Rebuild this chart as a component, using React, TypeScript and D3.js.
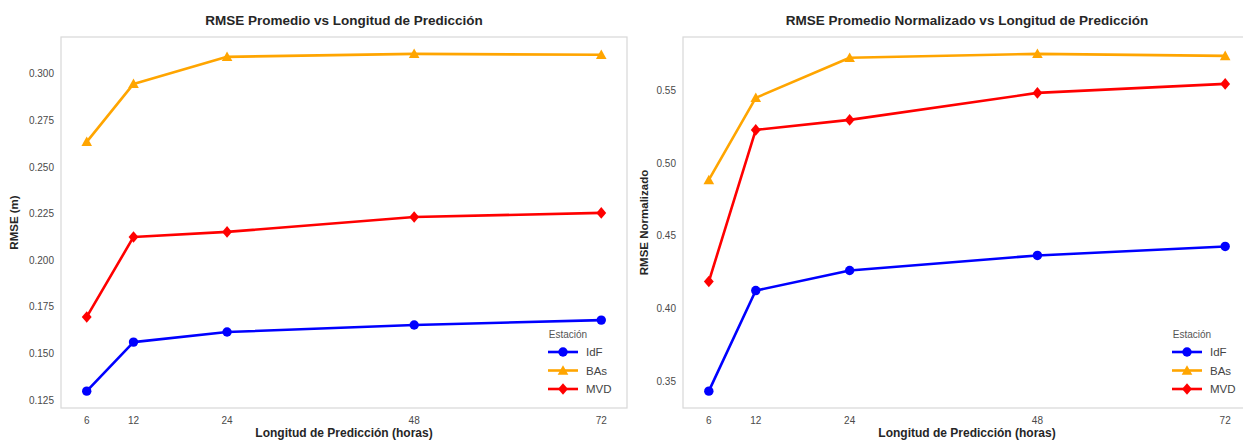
import React from "react";
import * as d3 from "d3";

const hours = [6, 12, 24, 48, 72];
const stations = ["IdF", "BAs", "MVD"];
const colors = ["#0000ff", "#ffa500", "#ff0000"];
const markers = ["circle", "triangle", "diamond"];

const rmseIdF = [0.1298, 0.1561, 0.1615, 0.1653, 0.1679];
const rmseBAs = [0.2635, 0.2946, 0.3091, 0.3107, 0.3102];
const rmseMVD = [0.1696, 0.2125, 0.2152, 0.2232, 0.2254];

const normIdF = [0.3431, 0.4124, 0.4262, 0.4366, 0.4428];
const normBAs = [0.4886, 0.5452, 0.5728, 0.5755, 0.5741];
const normMVD = [0.4186, 0.5231, 0.53, 0.5486, 0.5548];

const leftTicksY = [0.125, 0.15, 0.175, 0.2, 0.225, 0.25, 0.275, 0.3];
const rightTicksY = [0.35, 0.4, 0.45, 0.5, 0.55];

const FONT = "'Liberation Sans', Arial, sans-serif";

function Marker({ kind, x, y, color }: { kind: string; x: number; y: number; color: string }) {
  if (kind === "circle") return <circle cx={x} cy={y} r={4.7} fill={color} />;
  if (kind === "triangle") {
    const s = 5.3;
    return (
      <path
        d={`M${x},${y - s} L${x + s},${y + s * 0.8} L${x - s},${y + s * 0.8} Z`}
        fill={color}
      />
    );
  }
  const s = 5.8;
  return <path d={`M${x},${y - s} L${x + s * 0.85},${y} L${x},${y + s} L${x - s * 0.85},${y} Z`} fill={color} />;
}

function Panel(props: {
  x0: number;
  x1: number;
  y0: number;
  y1: number;
  series: number[][];
  yTicks: number[];
  fmt: string;
  title: string;
  ylabel: string;
  ylabelX: number;
  legendX: number;
}) {
  const { x0, x1, y0, y1, series, yTicks, fmt, title, ylabel, ylabelX, legendX } = props;
  const xs = d3.scaleLinear().domain([6 - 3.3, 72 + 3.3]).range([x0, x1]);
  const all = series.flat();
  const mn = d3.min(all) as number;
  const mx = d3.max(all) as number;
  const pad = (mx - mn) * 0.05;
  const ys = d3.scaleLinear().domain([mn - pad, mx + pad]).range([y1, y0]);
  const f = d3.format(fmt);
  const line = d3
    .line<number>()
    .x((_, i) => xs(hours[i]))
    .y((d) => ys(d));
  const cx = (x0 + x1) / 2;
  const cy = (y0 + y1) / 2;
  return (
    <g>
      <rect x={x0} y={y0} width={x1 - x0} height={y1 - y0} fill="white" stroke="#d8d8d8" strokeWidth={1.2} />
      <text x={cx} y={25} textAnchor="middle" fontFamily={FONT} fontWeight="bold" fontSize={13.5} fill="#262626">
        {title}
      </text>
      {yTicks.map((t) => (
        <text key={t} x={x0 - 7} y={ys(t) + 3.5} textAnchor="end" fontFamily={FONT} fontSize={10} fill="#4a4a4a">
          {f(t)}
        </text>
      ))}
      {hours.map((h) => (
        <text key={h} x={xs(h)} y={424} textAnchor="middle" fontFamily={FONT} fontSize={10} fill="#4a4a4a">
          {h}
        </text>
      ))}
      <text x={cx} y={437} textAnchor="middle" fontFamily={FONT} fontWeight="bold" fontSize={12} fill="#262626">
        Longitud de Predicción (horas)
      </text>
      <text
        transform={`translate(${ylabelX},${cy}) rotate(-90)`}
        textAnchor="middle"
        fontFamily={FONT}
        fontWeight="bold"
        fontSize={11.5}
        fill="#262626"
      >
        {ylabel}
      </text>
      {series.map((s, k) => (
        <g key={k}>
          <path d={line(s) || ""} fill="none" stroke={colors[k]} strokeWidth={2.6} strokeLinejoin="round" />
          {s.map((v, i) => (
            <Marker key={i} kind={markers[k]} x={xs(hours[i])} y={ys(v)} color={colors[k]} />
          ))}
        </g>
      ))}
      <g>
        <text x={legendX + 20} y={338} textAnchor="middle" fontFamily={FONT} fontSize={10} fill="#555">
          Estación
        </text>
        {stations.map((st, k) => {
          const yy = 352 + k * 18.5;
          return (
            <g key={st}>
              <line x1={legendX} x2={legendX + 30} y1={yy} y2={yy} stroke={colors[k]} strokeWidth={2.6} />
              <Marker kind={markers[k]} x={legendX + 15} y={yy} color={colors[k]} />
              <text x={legendX + 38} y={yy + 4} fontFamily={FONT} fontSize={11.5} fill="#444">
                {st}
              </text>
            </g>
          );
        })}
      </g>
    </g>
  );
}

export default function App() {
  return (
    <svg
      width={1243}
      height={440}
      style={{ position: "absolute", left: 0, top: 0, background: "white" }}
    >
      <rect x={0} y={0} width={1243} height={440} fill="white" />
      <Panel
        x0={61}
        x1={627}
        y0={37}
        y1={408}
        series={[rmseIdF, rmseBAs, rmseMVD]}
        yTicks={leftTicksY}
        fmt=".3f"
        title="RMSE Promedio vs Longitud de Predicción"
        ylabel="RMSE (m)"
        ylabelX={18}
        legendX={548}
      />
      <Panel
        x0={683}
        x1={1251}
        y0={37}
        y1={408}
        series={[normIdF, normBAs, normMVD]}
        yTicks={rightTicksY}
        fmt=".2f"
        title="RMSE Promedio Normalizado vs Longitud de Predicción"
        ylabel="RMSE Normalizado"
        ylabelX={648}
        legendX={1172}
      />
    </svg>
  );
}
